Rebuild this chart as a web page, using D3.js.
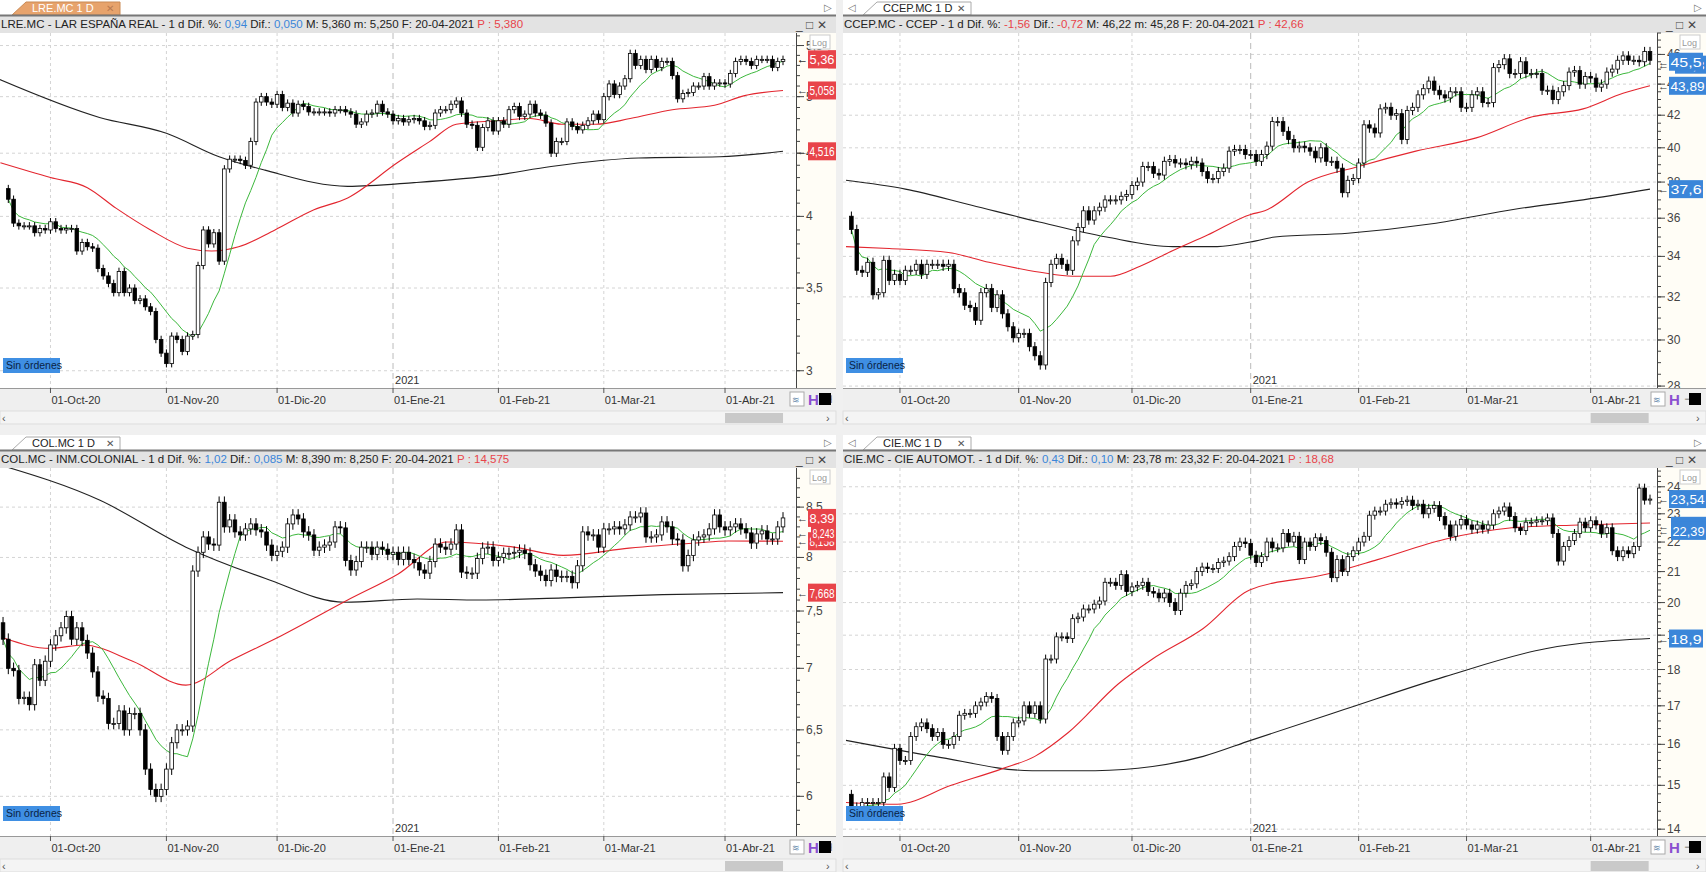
<!DOCTYPE html>
<html><head><meta charset="utf-8">
<script src="https://cdn.jsdelivr.net/npm/d3@7"></script>
<style>body{margin:0;background:#fff;overflow:hidden}svg{display:block;font-family:"Liberation Sans",Arial,sans-serif}</style>
</head><body><svg id="c" width="1706" height="872"></svg>
<script>
// ---------- DATA ----------
const holidays = ["2020-12-25","2021-01-01","2021-04-02","2021-04-05"];
const monthLabels = ["01-Oct-20","01-Nov-20","01-Dic-20","01-Ene-21","01-Feb-21","01-Mar-21","01-Abr-21"];

const lreClose = [4.13,3.95,3.93,3.93,3.93,3.88,3.91,3.9,3.96,3.91,3.9,3.91,3.91,3.75,3.81,3.78,3.77,3.63,3.58,3.53,3.47,3.61,3.47,3.5,3.42,3.43,3.38,3.35,3.18,3.1,3.04,3.2,3.18,3.11,3.2,3.21,3.65,3.9,3.8,3.88,3.68,4.37,4.45,4.45,4.44,4.4,4.6,4.95,5.0,4.95,4.93,5.02,4.9,4.94,4.85,4.93,4.91,4.86,4.86,4.86,4.86,4.85,4.88,4.88,4.86,4.84,4.75,4.77,4.84,4.85,4.93,4.86,4.84,4.78,4.8,4.77,4.79,4.8,4.78,
4.73,4.74,4.85,4.88,4.88,4.93,4.96,4.85,4.75,4.74,4.55,4.72,4.78,4.69,4.78,4.75,4.88,4.91,4.82,4.84,4.93,4.85,4.83,4.76,4.5,4.6,4.6,4.77,4.73,4.7,4.74,4.78,4.84,4.79,5.0,5.12,5.02,5.1,5.17,5.42,5.3,5.36,5.26,5.36,5.28,5.34,5.34,5.2,4.98,5.03,5.04,5.1,5.1,5.19,5.1,5.13,5.13,5.12,5.22,5.34,5.36,5.34,5.3,5.36,5.36,5.36,5.28,5.34,5.36];
const lreRed = [[1.5,4.42],[11,4.3],[18,4.22],[23.5,4.06],[30,3.9],[37,3.77],[41.6,3.75],[46.7,3.78],[53.6,3.9],[61,4.05],[67.4,4.14],[76.8,4.42],[83,4.6],[88,4.75],[95.6,4.78],[102,4.8],[108,4.75],[114.5,4.75],[121,4.8],[129,4.88],[137,4.92],[142.7,5.01],[150,5.058]];
const lreBlack = [[1,5.17],[20.3,4.81],[33,4.67],[43,4.47],[51.7,4.36],[67.4,4.23],[80,4.26],[95.6,4.32],[106,4.39],[122.6,4.46],[138,4.47],[150,4.516]];

const ccepClose = [35.4,33.3,33.2,33.7,32.1,32.2,33.8,32.8,33.1,32.8,33.3,33.3,33.6,33.1,33.6,33.6,33.6,33.5,33.6,32.4,32.2,31.6,31.5,30.9,32.2,32.4,31.5,32.1,31.2,30.6,30.1,30.3,30.3,29.7,29.3,28.9,32.7,33.6,33.9,33.6,33.3,34.8,35.5,36.4,35.9,36.4,36.6,37,37,37,37.2,37.3,37.8,38,38.9,38.9,38.5,38.4,39.2,39.3,39.1,39.1,39,39.2,39.1,38.6,38.2,38.2,38.6,38.8,39.8,39.9,39.9,39.6,39.6,39.2,39.6,
40.1,41.6,41.6,41,40.5,40,40.1,40,39.8,39.4,40,39.2,39.2,38.8,37.4,38.1,38.2,39.1,41.4,41.2,40.9,42.4,42.5,42,42.1,40.5,42.3,42.5,43.3,43.7,44.2,43.6,43.3,43.1,43.5,43.5,42.5,42.5,43.3,43.5,42.8,42.8,45.1,45.3,45.7,44.7,44.7,45.5,44.7,44.7,44.7,43.6,43.6,43,43.5,43.9,44.8,44.9,44,44.5,44.4,43.8,44,44.8,45,45.6,45.9,45.6,45.6,45.5,46.2,45.6];
const ccepRed = [[1,34.5],[9,34.4],[20,34.2],[27.5,33.7],[37,33.2],[43,33.0],[50,33.0],[55.5,33.5],[61.6,34.3],[68,35.1],[76,36.2],[78.6,36.4],[86.6,38.0],[96,38.9],[106.6,39.8],[117.8,40.6],[128.2,41.9],[137.6,42.4],[145,43.4],[150,43.89]];
const ccepBlack = [[1,38.1],[12,37.6],[24.3,36.7],[36.8,35.8],[49.3,35.0],[61.6,34.5],[69.8,34.5],[77,34.8],[80.5,35.0],[94,35.2],[109.6,35.7],[125.2,36.5],[137.6,37.0],[150,37.6]];

const colClose = [7.25,7.0,6.98,6.75,6.76,6.7,7.03,6.9,7.06,7.2,7.28,7.35,7.45,7.25,7.35,7.24,7.13,6.97,6.77,6.75,6.55,6.55,6.65,6.5,6.63,6.63,6.5,6.2,6.05,6.0,6.05,6.2,6.4,6.5,6.5,6.53,7.87,8.05,8.2,8.13,8.12,8.55,8.3,8.37,8.25,8.22,8.28,8.33,8.27,8.25,8.12,8.02,8.06,8.1,8.33,8.42,8.38,8.25,8.22,8.07,8.1,8.12,8.15,8.3,8.29,7.97,7.88,7.96,8.1,8.1,8.03,8.1,8.08,8.03,8.05,7.98,8.05,7.98,7.95,7.88,
7.85,7.96,8.13,8.1,8.08,8.13,8.27,7.86,7.85,7.85,7.99,8.09,8.1,7.97,8.0,8.04,8.04,8.05,8.07,8.04,7.93,7.87,7.83,7.78,7.88,7.82,7.82,7.82,7.76,7.92,8.25,8.22,8.22,8.1,8.28,8.28,8.3,8.28,8.32,8.4,8.4,8.44,8.2,8.2,8.22,8.35,8.3,8.18,8.17,7.92,8.02,8.17,8.2,8.22,8.28,8.42,8.3,8.27,8.3,8.33,8.28,8.24,8.14,8.23,8.26,8.18,8.18,8.3,8.39];
const colRed = [[2.1,7.26],[11,7.17],[17.2,7.2],[26.6,7.06],[36.7,6.86],[45.4,7.07],[54.8,7.28],[67.4,7.6],[76.9,7.84],[86.3,8.15],[98.9,8.1],[108.3,8.02],[120.8,8.09],[133.4,8.14],[139.6,8.16],[150,8.158]];
const colBlack = [[1,8.95],[20.4,8.57],[36.7,8.1],[51.8,7.8],[66.8,7.58],[80.6,7.61],[92.5,7.6],[108.3,7.62],[127.2,7.65],[150,7.668]];

const cieClose = [14.5,14.4,14.6,14.6,14.6,14.6,15.2,14.95,15.9,15.6,15.6,16.2,16.45,16.55,16.4,16.2,16.3,16.0,16.0,16.2,16.75,16.8,16.8,17,17.1,17.25,17.2,16.2,15.85,16.2,16.55,16.6,17.0,16.8,17.0,16.65,18.3,18.3,18.95,18.95,18.9,19.5,19.55,19.8,19.8,19.95,20.05,20.65,20.65,20.55,20.9,20.35,20.5,20.55,20.65,20.35,20.3,20.15,20.3,20.0,19.75,20.3,20.55,20.6,21.0,21.15,21.1,21.1,21.3,21.35,21.5,21.85,22,21.95,21.55,21.3,
21.5,22,21.8,21.8,22.3,22.0,22.2,21.4,22.0,21.85,22.15,22.05,21.65,20.8,21.4,21.0,21.5,21.7,22,22.2,22.95,23.1,23.1,23.35,23.4,23.35,23.45,23.5,23.3,23.35,23.0,23.2,23.3,22.9,22.6,22.2,22.6,22.8,22.6,22.45,22.6,22.45,22.6,23.0,23.1,23.25,22.9,22.5,22.4,22.7,22.7,22.75,22.75,22.85,22.3,21.35,21.85,22.05,22.3,22.7,22.5,22.75,22.6,22.3,22.5,21.7,21.5,21.7,21.6,21.85,23.95,23.5,23.54];
const cieRed = [[1,14.6],[10.5,14.56],[20.5,15.0],[30,15.4],[36,15.7],[42.2,16.3],[51.5,17.6],[57.8,18.3],[67.2,19.2],[75.8,20.4],[90.2,20.92],[99.5,21.4],[112,22.1],[124.4,22.5],[136.8,22.6],[150,22.67]];
const cieBlack = [[1,16.1],[17.4,15.7],[35.5,15.35],[47.2,15.35],[57.8,15.45],[67.2,15.7],[76,16.1],[93.3,16.9],[112,17.8],[130.6,18.6],[150,18.9]];

// ---------- BUILD ----------
const svg = d3.select("#c");
const days = [];
for (let d = new Date(Date.UTC(2020,8,16)); d <= new Date(Date.UTC(2021,3,20)); d.setUTCDate(d.getUTCDate()+1)) {
  const wd = d.getUTCDay(), s = d.toISOString().slice(0,10);
  if (wd>0 && wd<6 && !holidays.includes(s)) days.push(s);
}
const N = days.length;
const monthStarts = [];
days.forEach((s,i)=>{ if(i>0 && s.slice(5,7)!==days[i-1].slice(5,7)) monthStarts.push(i); });

function panel(o){
  const g = svg.append("g");
  const {px,py,w,pt,pb,pr} = o;
  const x = d3.scaleLinear().domain([0,N-1]).range(o.xr);
  const y = d3.scaleLog().domain(o.yd).range([pb,pt]);
  // tab row
  g.append("rect").attr("x",px).attr("y",py).attr("width",w).attr("height",15).attr("fill","#fff");
  if(o.arrowL) g.append("text").attr("x",px+5).attr("y",py+11).attr("font-size",10).attr("fill","#777").text("◁");
  g.append("text").attr("x",px+w-12).attr("y",py+11).attr("font-size",10).attr("fill","#777").text("▷");
  const tx=px+o.tabX;
  g.append("path").attr("d",`M${tx},${py+15}L${tx+14},${py+2}H${tx+108}V${py+15}Z`)
    .attr("fill",o.active?"#e7a36c":"#fff").attr("stroke",o.active?"#c98a55":"#aaa");
  g.append("text").attr("x",tx+20).attr("y",py+12).attr("font-size",11).attr("fill",o.active?"#fff":"#222").text(o.tab);
  g.append("text").attr("x",tx+94).attr("y",py+12).attr("font-size",10).attr("fill",o.active?"#b97a50":"#555").text("✕");
  // header
  g.append("rect").attr("x",px).attr("y",py+15).attr("width",w).attr("height",18).attr("fill","#e3e3e3");
  g.append("line").attr("x1",px).attr("x2",px+w).attr("y1",py+15.5).attr("y2",py+15.5).attr("stroke","#777").attr("stroke-width",2);
  const ht = g.append("text").attr("x",px+1).attr("y",py+28).attr("font-size",11.5).attr("fill","#222");
  o.head.forEach(([t,c])=>ht.append("tspan").attr("fill",c).text(t));
  g.append("text").attr("x",px+w-40).attr("y",py+29).attr("font-size",12).attr("fill","#444").text("_ □ ✕");
  // plot bg
  g.append("rect").attr("x",px).attr("y",pt).attr("width",w).attr("height",pb-pt).attr("fill","#fff");
  g.append("rect").attr("x",pr).attr("y",pt).attr("width",px+w-pr).attr("height",pb-pt).attr("fill","#fffdf6");
  const clip = "clip"+o.id;
  svg.append("clipPath").attr("id",clip).append("rect").attr("x",px).attr("y",pt).attr("width",pr-px).attr("height",pb-pt);
  const pg = g.append("g").attr("clip-path",`url(#${clip})`);
  // grid
  o.ticks.forEach(t=>pg.append("line").attr("x1",px).attr("x2",pr).attr("y1",y(t)).attr("y2",y(t)).attr("stroke","#d4d4d4").attr("stroke-dasharray","3,3"));
  monthStarts.forEach(i=>pg.append("line").attr("x1",x(i)).attr("x2",x(i)).attr("y1",pt).attr("y2",pb)
     .attr("stroke",days[i].slice(5,7)==="01"?"#bbb":"#d4d4d4").attr("stroke-dasharray",days[i].slice(5,7)==="01"?"6,4":"3,3"));
  // lines
  const ln = d3.line().x(d=>x(d[0])).y(d=>y(d[1])).curve(d3.curveMonotoneX);
  pg.append("path").attr("d",ln(o.black)).attr("fill","none").attr("stroke","#222").attr("stroke-width",1.1);
  pg.append("path").attr("d",ln(o.red)).attr("fill","none").attr("stroke","#e3262f").attr("stroke-width",1.1);
  // candles
  const off = N - o.close.length;
  const bars = o.close.map((c,k)=>{ const op = k? o.close[k-1] : c*1.02; return {i:k+off,o:op,c,h:Math.max(op,c)*1.007,l:Math.min(op,c)*0.993}; });
  const green = o.close.map((c,k)=>{ const s=o.close.slice(Math.max(0,k-9),k+1); return [k+off, d3.mean(s)]; });
  pg.append("path").attr("d",d3.line().x(d=>x(d[0])).y(d=>y(d[1]))(green)).attr("fill","none").attr("stroke","#3cb83c").attr("stroke-width",1);
  const cw = 3.6;
  bars.forEach(b=>{
    pg.append("line").attr("x1",x(b.i)).attr("x2",x(b.i)).attr("y1",y(b.h)).attr("y2",y(b.l)).attr("stroke","#000");
    const t=Math.min(y(b.o),y(b.c)), hh=Math.max(1,Math.abs(y(b.o)-y(b.c)));
    pg.append("rect").attr("x",x(b.i)-cw/2).attr("y",t).attr("width",cw).attr("height",hh)
      .attr("fill",b.c>=b.o?"#fff":"#000").attr("stroke","#000").attr("stroke-width",0.8);
  });
  // 2021 label
  const ji = monthStarts.find(i=>days[i].slice(5,7)==="01");
  g.append("text").attr("x",x(ji)+2).attr("y",pb-4).attr("font-size",11).attr("fill","#333").text("2021");
  // Sin ordenes
  g.append("rect").attr("x",px+3).attr("y",pb-30).attr("width",57).attr("height",15).attr("fill","#3f8fe3");
  g.append("text").attr("x",px+6).attr("y",pb-19).attr("font-size",10.5).attr("fill","#0a1f44").text("Sin órdenes");
  // price axis
  g.append("line").attr("x1",pr+0.5).attr("x2",pr+0.5).attr("y1",pt).attr("y2",pb).attr("stroke","#444");
  d3.range(o.yd[0],o.yd[1],o.minor).forEach(v=>{const vv=Math.round(v/o.minor)*o.minor; if(vv>=o.yd[0]&&vv<=o.yd[1]) g.append("line").attr("x1",pr).attr("x2",pr+4).attr("y1",y(vv)).attr("y2",y(vv)).attr("stroke","#444");});
  o.ticks.forEach(t=>{ g.append("line").attr("x1",pr).attr("x2",pr+8).attr("y1",y(t)).attr("y2",y(t)).attr("stroke","#444");
    g.append("text").attr("x",pr+10).attr("y",y(t)+4).attr("font-size",12).attr("fill","#444").text(String(t).replace(".",",")); });
  g.append("rect").attr("x",px+w-26).attr("y",pt+2).attr("width",20).attr("height",14).attr("fill","#fff").attr("stroke","#ccc");
  g.append("text").attr("x",px+w-24).attr("y",pt+13).attr("font-size",9).attr("fill","#999").text("Log");
  const maxW = px+w-pr-12;
  o.labels.forEach(([v,t,c,dx])=>{
    dx = dx||0;
    const bw = Math.min(t.length*7.5+4, maxW-dx);
    g.append("text").attr("x",pr+1).attr("y",y(v)+4).attr("font-size",11).attr("fill","#333").text("←");
    g.append("rect").attr("x",pr+12+dx).attr("y",y(v)-9).attr("width",bw).attr("height",18).attr("fill",c);
    g.append("text").attr("x",pr+13.5+dx).attr("y",y(v)+5).attr("font-size",13.5).attr("fill","#fff")
      .attr("textLength",bw-3).attr("lengthAdjust","spacingAndGlyphs").text(t);
  });
  // x axis bar
  g.append("rect").attr("x",px).attr("y",pb).attr("width",w).attr("height",23).attr("fill","#efefef");
  g.append("line").attr("x1",px).attr("x2",px+w).attr("y1",pb+0.5).attr("y2",pb+0.5).attr("stroke","#999");
  monthStarts.forEach((i,k)=>{ g.append("line").attr("x1",x(i)).attr("x2",x(i)).attr("y1",pb).attr("y2",pb+5).attr("stroke","#555");
    g.append("text").attr("x",x(i)+1).attr("y",pb+16).attr("font-size",11).attr("fill","#333").text(monthLabels[k]); });
  g.append("rect").attr("x",pr-8).attr("y",pb+3).attr("width",px+w-pr+8).attr("height",17).attr("fill","#efefef");
  g.append("rect").attr("x",pr-6).attr("y",pb+4).attr("width",14).attr("height",14).attr("fill","#fff").attr("stroke","#aaa");
  g.append("text").attr("x",pr-4).attr("y",pb+15).attr("font-size",9).attr("fill","#68a").text("≋");
  g.append("text").attr("x",pr+12).attr("y",pb+17).attr("font-size",15).attr("font-weight","bold").attr("fill","#8a4fd0").text("H");
  g.append("text").attr("x",pr+27).attr("y",pb+15).attr("font-size",11).attr("fill","#555").text("⊣");
  g.append("rect").attr("x",px+w-17).attr("y",pb+5).attr("width",12).attr("height",12).attr("fill","#000");
  // scrollbar
  g.append("rect").attr("x",px).attr("y",pb+23).attr("width",w).attr("height",13).attr("fill","#f4f4f4").attr("stroke","#ddd");
  g.append("rect").attr("x",x(N-12)).attr("y",pb+25).attr("width",58).attr("height",10).attr("fill","#c9c9c9");
  g.append("text").attr("x",px+2).attr("y",pb+34).attr("font-size",11).attr("fill","#555").text("‹");
  g.append("text").attr("x",px+w-10).attr("y",pb+34).attr("font-size",11).attr("fill","#555").text("›");
}
svg.append("rect").attr("width",1706).attr("height",872).attr("fill","#f0f0f0");
const B="#3b86d9", R="#e8444a", K="#222";
panel({id:1,px:0,py:0,w:836,pt:33,pb:388,pr:796,xr:[-7.5,783],yd:[2.905,5.63],ticks:[3,3.5,4,4.5,5,5.5],minor:0.1,close:lreClose,red:lreRed,black:lreBlack,
  tab:"LRE.MC 1 D",tabX:12,active:true,arrowL:false,
  head:[["LRE.MC - LAR ESPAÑA REAL -  1 d  Dif. %: ",K],["0,94",B],["  Dif.: ",K],["0,050",B],["  M: 5,360  m: 5,250  F: 20-04-2021  ",K],["P : 5,380",R]],
  labels:[[5.36,"(2",R,20],[5.36,"5,36",R],[5.058,"5,058",R],[4.516,"4,516",R]]});
panel({id:2,px:843,py:0,w:863,pt:33,pb:388,pr:1657,xr:[840.6,1650],yd:[27.92,47.5],ticks:[28,30,32,34,36,38,40,42,44,46],minor:0.5,close:ccepClose,red:ccepRed,black:ccepBlack,
  tab:"CCEP.MC 1 D",tabX:20,active:false,arrowL:true,
  head:[["CCEP.MC - CCEP -  1 d  Dif. %: ",K],["-1,56",R],["  Dif.: ",K],["-0,72",R],["  M: 46,22  m: 45,28  F: 20-04-2021  ",K],["P : 42,66",R]],
  labels:[[45.3,"45,3",B,6],[45.5,"45,5",B],[43.89,"43,89",B],[37.6,"37,6",B]]});
panel({id:3,px:0,py:435,w:836,pt:468,pb:836,pr:796,xr:[-7.5,783],yd:[5.72,8.91],ticks:[6,6.5,7,7.5,8,8.5],minor:0.1,close:colClose,red:colRed,black:colBlack,
  tab:"COL.MC 1 D",tabX:12,active:false,arrowL:false,
  head:[["COL.MC - INM.COLONIAL -  1 d  Dif. %: ",K],["1,02",B],["  Dif.: ",K],["0,085",B],["  M: 8,390  m: 8,250  F: 20-04-2021  ",K],["P : 14,575",R]],
  labels:[[8.158,"8,158",R],[8.39,"8,39",R],[8.243,"8,243",R,3],[7.668,"7,668",R]]});
panel({id:4,px:843,py:435,w:863,pt:468,pb:836,pr:1657,xr:[840.6,1650],yd:[13.85,24.72],ticks:[14,15,16,17,18,19,20,21,22,23,24],minor:0.2,close:cieClose,red:cieRed,black:cieBlack,
  tab:"CIE.MC 1 D",tabX:20,active:false,arrowL:true,
  head:[["CIE.MC - CIE AUTOMOT. -  1 d  Dif. %: ",K],["0,43",B],["  Dif.: ",K],["0,10",B],["  M: 23,78  m: 23,32  F: 20-04-2021  ",K],["P : 18,68",R]],
  labels:[[22.57,"22,57",B,2],[23.54,"23,54",B],[22.39,"22,39",B,2],[18.9,"18,9",B]]});
</script></body></html>
